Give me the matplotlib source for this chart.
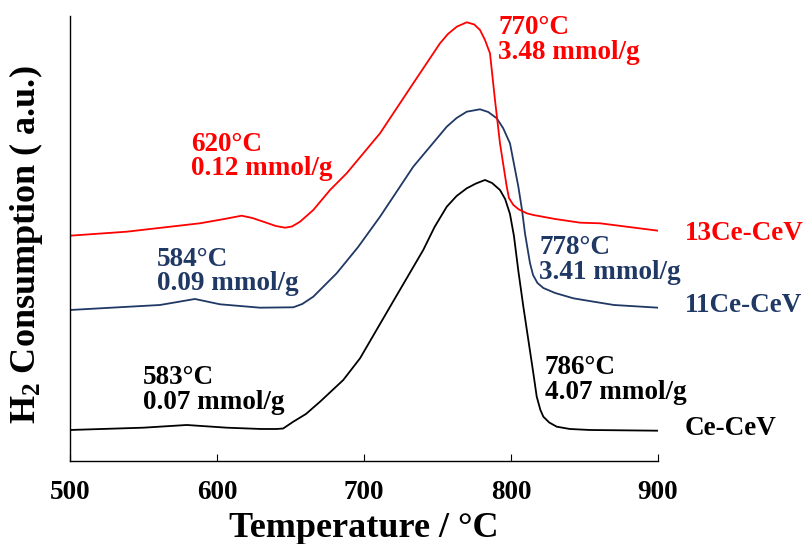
import matplotlib
matplotlib.use("Agg")
import matplotlib.pyplot as plt

# curve readings (temperature in C, H2 signal in arbitrary units)
temp_ce = [500, 549.9, 579.4, 606.6, 630, 640.6, 645, 651.9, 660.5, 670.1, 685.9, 697.3,
           720, 740.3, 748, 756.3, 763, 769.9, 776.2, 782.3, 787.1, 792.5, 796, 799.3,
           802, 805, 808.4, 811.8, 815.2, 817.5, 820, 822, 826, 831.1, 840, 853.7, 900]
sig_ce = [31, 33.3, 36, 33.3, 32, 32, 32.5, 39.3, 47, 59.3, 81, 102.7,
          160, 211, 234, 254.3, 265, 272.7, 277.5, 281, 278, 271, 262, 247,
          225, 190, 154.3, 121, 87.7, 64.3, 51, 44.3, 38.5, 34.3, 32, 31, 30.3]

temp_11 = [500, 561.2, 585, 602, 629.3, 651.9, 658, 665.5, 681.4, 696, 710.9, 733.5,
           756.3, 763, 769.9, 778.9, 784.5, 790.3, 794.6, 799.3, 805, 807.5, 809.5,
           812.9, 815, 818, 822, 830, 842.4, 849.2, 870, 900]
sig_11 = [151, 156, 162, 156.7, 153.3, 153.7, 157, 164.3, 187.7, 214, 244.3, 294.3,
          334.3, 343, 349.3, 351.7, 349, 342.7, 333, 317.7, 274.3, 251, 227.7,
          198, 186, 178, 173, 168, 162.7, 161, 156, 153.3]

temp_13 = [500, 538.6, 588.4, 605, 616.8, 624, 631.5, 640, 646.3, 651, 656.5, 665.5,
           676.9, 688.2, 710.9, 733.5, 751.7, 757.1, 763.1, 769.9, 775, 778.9, 782.3,
           785.7, 789.1, 792.5, 797.1, 798.6, 801.6, 805.4, 810.7, 815.2, 830, 847.1,
           860.5, 900]
sig_13 = [225.3, 229.3, 237.7, 242, 245.3, 243, 239.3, 235, 233.3, 234.5, 239.3, 251,
          271, 287.7, 327.7, 377.7, 417.7, 427, 434.3, 438.7, 436.5, 431, 421,
          407.7, 361, 317.7, 274.3, 263, 256, 251.5, 247.7, 246, 242, 238.3,
          237.7, 230.3]

names = ["Ce-CeV", "11Ce-CeV", "13Ce-CeV"]
colors = ["#000000", "#1F3864", "#FF0000"]
low_peaks = ["583°C\n0.07 mmol/g", "584°C\n0.09 mmol/g", "620°C\n0.12 mmol/g"]
high_peaks = ["786°C\n4.07 mmol/g", "778°C\n3.41 mmol/g", "770°C\n3.48 mmol/g"]

plt.rcParams["font.family"] = ["Liberation Serif", "DejaVu Serif"]
plt.rcParams["font.weight"] = "bold"
plt.rcParams["mathtext.fontset"] = "custom"
plt.rcParams["mathtext.rm"] = "Liberation Serif:bold"
plt.rcParams["mathtext.bf"] = "Liberation Serif:bold"
plt.rcParams["mathtext.it"] = "Liberation Serif:bold:italic"

fig = plt.figure(figsize=(8.04, 5.44), dpi=100)
ax = fig.add_axes([0.0871, 0.1526, 0.7313, 0.8180])

curves = [(temp_ce, sig_ce), (temp_11, sig_11), (temp_13, sig_13)]
for (t, s), c in zip(curves, colors):
    ax.plot(t, s, color=c, lw=1.3, solid_joinstyle="round")

ax.set_xlim(500, 900)
ax.set_ylim(0, 445)
ax.set_xticks([500, 600, 700, 800, 900])
ax.set_yticks([])
ax.tick_params(axis="x", direction="in", length=5, width=0.8, pad=14,
               labelsize=19.5)
for side in ["top", "right"]:
    ax.spines[side].set_visible(False)
for side in ["left", "bottom"]:
    ax.spines[side].set_linewidth(1.0)

fs = 19.5
ls = 0.97
# low temperature peak labels
low_pos = [(549.5, 95.5), (559, 214), (582.1, 329)]
for (x, y), txt, c in zip(low_pos, low_peaks, colors):
    ax.text(x, y, txt, color=c, fontsize=fs, fontweight="bold", va="top",
            ha="left", linespacing=ls)
# main peak labels
high_pos = [(823.1, 105.5), (819.3, 225.5), (791.4, 445.5)]
for (x, y), txt, c in zip(high_pos, high_peaks, colors):
    ax.text(x, y, txt, color=c, fontsize=fs, fontweight="bold", va="top",
            ha="left", linespacing=ls, clip_on=False)
# sample names at the right end
name_y = [32, 155, 227]
for y, txt, c in zip(name_y, names, colors):
    ax.text(918.4, y, txt, color=c, fontsize=fs, fontweight="bold", va="center",
            ha="left", clip_on=False)

fig.text(0.453, 0.0134, "Temperature / °C", fontsize=26, fontweight="bold",
         ha="center", va="baseline")
fig.text(0.0326, 0.8805, "H$_{2}$ Consumption ( a.u.)", fontsize=26,
         fontweight="bold", rotation=90, ha="center", va="top")

fig.savefig("out.png", dpi=100)
